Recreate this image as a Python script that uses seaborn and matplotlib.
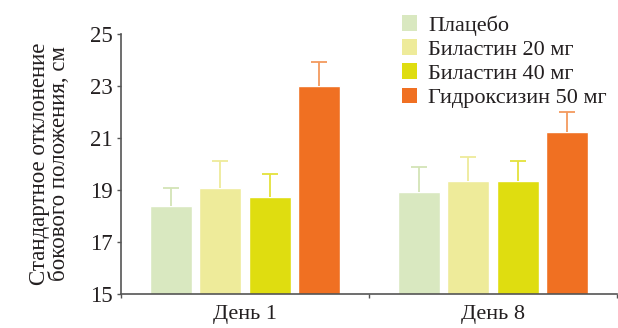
import matplotlib
matplotlib.use('Agg')
import matplotlib.pyplot as plt
import matplotlib.patches as mpatches
import seaborn as sns
import pandas as pd
import numpy as np

# ── data ──────────────────────────────────────────────────────
days = ['День 1', 'День 8']
groups = ['Плацебо', 'Биластин 20 мг', 'Биластин 40 мг', 'Гидроксизин 50 мг']
means_day1 = [18.38, 19.07, 18.73, 23.0]
means_day8 = [18.92, 19.35, 19.35, 21.22]
err_day1 = [0.70, 1.06, 0.87, 0.91]
err_day8 = [0.95, 0.93, 0.77, 0.79]
colors = ['#d9e8c0', '#eeeb9a', '#dfdd10', '#f07022']
err_colors = ['#d3e4b6', '#eeeb9a', '#e4e23c', '#f39a5e']

df = pd.DataFrame({
    'day': [days[0]] * 4 + [days[1]] * 4,
    'group': groups * 2,
    'value': means_day1 + means_day8,
    'err': err_day1 + err_day8,
})

sns.set_theme(style='white')
plt.rcParams['font.family'] = ['Liberation Serif', 'DejaVu Serif']
txt = '#231f20'

fig = plt.figure(figsize=(6.18, 3.28), dpi=100)
ax = fig.add_axes([121 / 618, 1 - 294 / 328, 496 / 618, 260 / 328])

sns.barplot(data=df, x='day', y='value', hue='group', hue_order=groups,
            order=days, palette=colors, gap=0.15, errorbar=None,
            saturation=1, legend=False, ax=ax)

# upward-only error bars, one container per hue level
bar_conts = list(ax.containers)
for i, cont in enumerate(bar_conts):
    sub = df[df['group'] == groups[i]].set_index('day').loc[days]
    xs = [b.get_x() + b.get_width() / 2 for b in cont]
    eb = ax.errorbar(xs, sub['value'].values,
                     yerr=[np.zeros(len(xs)), sub['err'].values],
                     fmt='none', ecolor=err_colors[i], elinewidth=1.3,
                     capsize=6, capthick=1.3, zorder=1)
    eb[1][0].set_visible(False)   # no cap at the bar top

ax.set_ylim(15, 25)
ax.set_yticks([15, 17, 19, 21, 23, 25])
ax.set_xlim(-0.5, 1.5)
ax.set_xticks([0, 1])
ax.set_xticklabels(days)
ax.set_xticks([-0.5, 0.5, 1.5], minor=True)
ax.tick_params(axis='x', which='major', length=0, labelsize=16,
               labelcolor=txt, pad=8)
ax.tick_params(axis='x', which='minor', length=3, width=1, color='#555555',
               direction='out', bottom=True)
ax.tick_params(axis='y', length=3, width=1, color='#555555',
               direction='out', left=True, labelsize=16.5, labelcolor=txt, pad=3)

for s in ['top', 'right']:
    ax.spines[s].set_visible(False)
for s in ['left', 'bottom']:
    ax.spines[s].set_color('#555555')
    ax.spines[s].set_linewidth(1.2)

ax.set_xlabel('')
ax.set_ylabel('Стандартное отклонение\nбокового положения, см',
              fontsize=16.5, color=txt, labelpad=14, linespacing=0.95)

handles = [mpatches.Patch(facecolor=c, edgecolor='none', label=g)
           for c, g in zip(colors, groups)]
fig.legend(handles=handles, loc='upper left',
           bbox_to_anchor=(393 / 618, 1 - 6 / 328),
           frameon=False, fontsize=16, handlelength=0.68, handleheight=0.72,
           handletextpad=0.5, labelspacing=0.16, borderaxespad=0,
           labelcolor=txt)

plt.savefig('out.png', dpi=100)
